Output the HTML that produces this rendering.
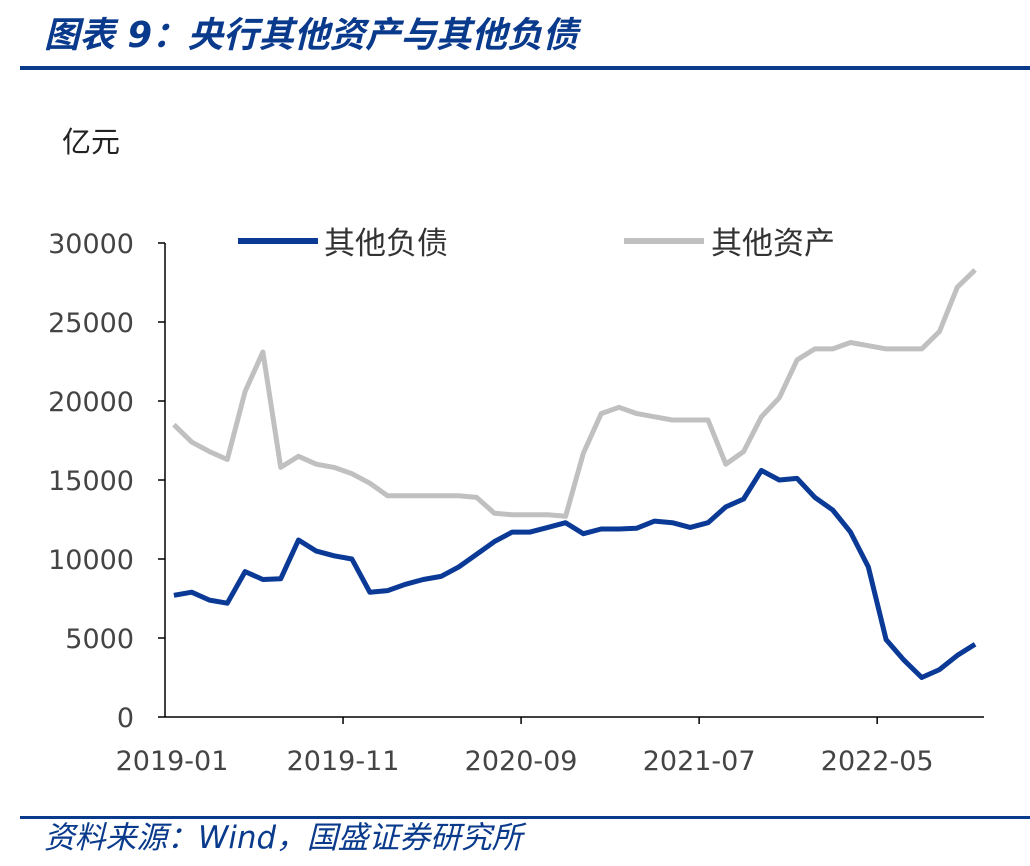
<!DOCTYPE html>
<html><head><meta charset="utf-8"><style>
body{margin:0;width:1030px;height:866px;background:#fff;overflow:hidden;font-family:"Liberation Sans","Noto Sans CJK SC",sans-serif;}
svg{display:block}
</style></head><body>
<svg id="chart" width="1030" height="866">
<text x="44" y="47" font-size="35.5" font-style="italic" font-weight="bold" fill="#0a3a8c" font-family="'DejaVu Sans','Noto Sans CJK SC',sans-serif">图表 9：央行其他资产与其他负债</text>
<rect x="20" y="66" width="1010" height="4" fill="#0a3a8c"/>
<text x="62" y="152" font-size="29" fill="#222">亿元</text>
<g id="yticks"></g><g id="xticks"></g><g id="series"></g>
<g>
<line x1="238" y1="241" x2="318" y2="241" stroke="#0a3a96" stroke-width="6"/>
<text x="324" y="254" font-size="31" fill="#333">其他负债</text>
<line x1="624" y1="241" x2="704" y2="241" stroke="#c0c0c0" stroke-width="6"/>
<text x="711" y="254" font-size="31" fill="#333">其他资产</text>
</g>
<rect x="20" y="816" width="1010" height="3" fill="#0a3a8c"/>
<text x="44" y="848" font-size="30.8" font-style="italic" fill="#0a3a8c" font-family="'DejaVu Sans','Noto Sans CJK SC',sans-serif">资料来源：Wind，国盛证券研究所</text>
</svg>
<script>
const liabilities=[7700,7900,7400,7200,9200,8700,8750,11200,10500,10200,10000,7900,8000,8400,8700,8900,9500,10300,11100,11700,11700,12000,12300,11600,11900,11900,11950,12400,12300,12000,12300,13300,13800,15600,15000,15100,13900,13100,11700,9500,4900,3600,2500,3000,3900,4600];
const assets=[18500,17400,16800,16300,20600,23100,15800,16500,16000,15800,15400,14800,14000,14000,14000,14000,14000,13900,12900,12800,12800,12800,12700,16700,19200,19600,19200,19000,18800,18800,18800,16000,16800,19000,20200,22600,23300,23300,23700,23500,23300,23300,23300,24400,27200,28300];
const yTicks=[0,5000,10000,15000,20000,25000,30000];
const xLabels=["2019-01","2019-11","2020-09","2021-07","2022-05"];
const xLabelIdx=[0,10,20,30,40];
const NS="http://www.w3.org/2000/svg";
const L=165,R=984,T=243,B=717,N=liabilities.length,step=(R-L)/N;
const y=v=>B-(v/30000)*(B-T);
const x=i=>L+step*(i+0.5);
function mk(t,a,p){const e=document.createElementNS(NS,t);for(const k in a)e.setAttribute(k,a[k]);p.appendChild(e);return e;}
const yg=document.getElementById('yticks'),xg=document.getElementById('xticks'),sg=document.getElementById('series');
const ax=mk('line',{x1:L,y1:T,x2:L,y2:B,stroke:'#000','stroke-width':1.5},yg);


yTicks.forEach(v=>{
 const t=mk('line',{x1:L-7,y1:y(v),x2:L,y2:y(v),stroke:'#000','stroke-width':1.5},yg);
 
 
 const tx=mk('text',{x:L-31,y:y(v)+10,'text-anchor':'end','font-size':27,fill:'#444','font-family':'DejaVu Sans,sans-serif'},yg);
 tx.textContent=v;
 
 
});
const xa=mk('line',{x1:L,y1:B,x2:R,y2:B,stroke:'#000','stroke-width':1.5},xg);


xLabelIdx.forEach((idx,k)=>{
 const px=L+step*idx;
 if(idx>0){const t=mk('line',{x1:px,y1:B,x2:px,y2:B+7,stroke:'#000','stroke-width':1.5},xg);
 
 }
 const tx=mk('text',{x:idx===0?px+7:px,y:B+53,'text-anchor':'middle','font-size':27,fill:'#444','font-family':'DejaVu Sans,sans-serif'},xg);
 tx.textContent=xLabels[k];
 
 
});
function line(data,color,name){
 const d=data.map((v,i)=>(i?'L':'M')+x(i).toFixed(1)+' '+y(v).toFixed(1)).join(' ');
 const p=mk('path',{d:d,fill:'none',stroke:color,'stroke-width':5,'stroke-linejoin':'round'},sg);
 
 
}
line(assets,'#c0c0c0','assets-line');
line(liabilities,'#0a3a96','liabilities-line');
</script>
</body></html>
